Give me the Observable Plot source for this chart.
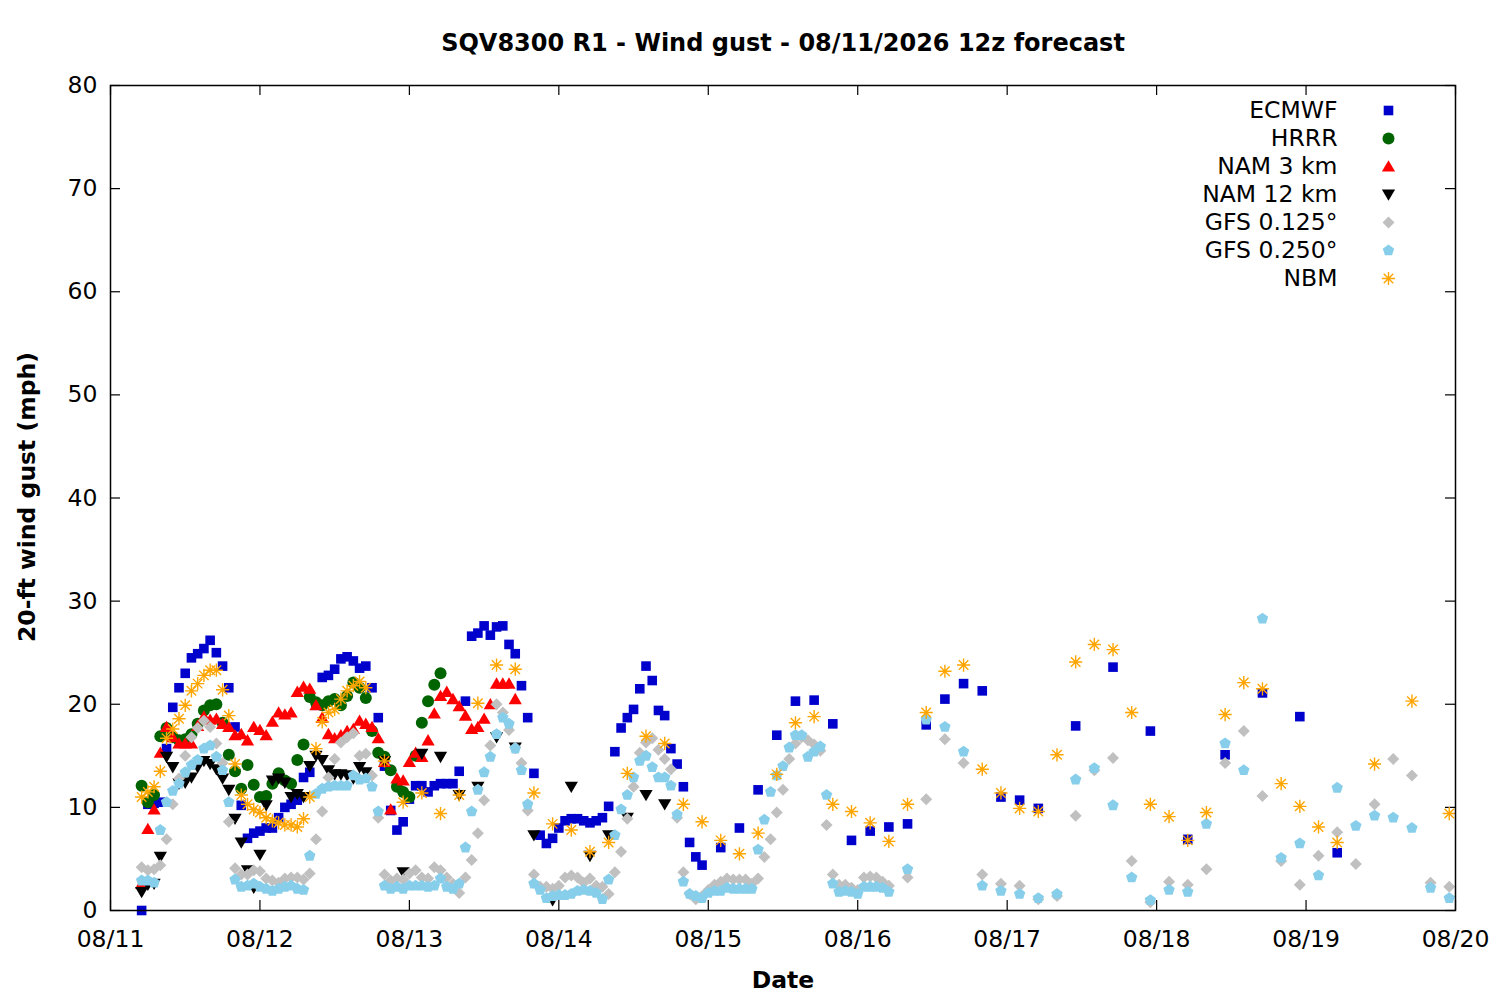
<!DOCTYPE html>
<html><head><meta charset="utf-8">
<script src="https://cdn.jsdelivr.net/npm/d3@7"></script>
<script src="https://cdn.jsdelivr.net/npm/@observablehq/plot@0.6"></script>
<style>
body{margin:0;background:#fff}
</style>
</head><body><div id="chart"></div>
<script>
// ---- Chart text ----
const chartTitle = "SQV8300 R1 - Wind gust - 08/11/2026 12z forecast";
const yLabel = "20-ft wind gust (mph)";
const xLabel = "Date";
const seriesNames = ["ECMWF","HRRR","NAM 3 km","NAM 12 km","GFS 0.125°","GFS 0.250°","NBM"];
const seriesColors = ["#0000cc","#006400","#ff0000","#000000","#c0c0c0","#87ceeb","#ffa500"];
const yTicks = [0,10,20,30,40,50,60,70,80];
const dayTicks = ["2026-08-11","2026-08-12","2026-08-13","2026-08-14","2026-08-15","2026-08-16","2026-08-17","2026-08-18","2026-08-19","2026-08-20"];
// axis origin (08/11 00 local); values below are listed by hour since origin
const axisStart = "2026-08-11T00:00Z";
const axisEnd = "2026-08-20T00:00Z";

// ---- ECMWF: hourly from h5, 3-hourly from h98, 6-hourly from h155 ----
const ecmwfHourly = [0.0,10.3,10.4,10.5,15.7,19.7,21.6,23.0,24.5,24.9,
 25.4,26.2,25.0,23.7,21.6,17.8,10.2,7.0,7.5,7.7,
 8.0,8.0,9.0,10.0,10.3,10.7,12.9,13.4,19.9,22.6,
 22.8,23.4,24.4,24.6,24.2,23.5,23.7,21.6,18.7,14.0,
 9.7,7.8,8.6,10.8,12.1,12.1,11.5,12.1,12.3,12.3,
 12.3,13.5,20.3,26.6,26.9,27.6,26.7,27.5,27.6,25.8,
 24.9,21.8,18.7,13.3,7.3,6.5,7.0,8.0,8.7,8.9,
 8.9,8.7,8.5,8.7,9.0,10.1,15.4,17.7,18.7,19.5,
 21.5,23.7,22.3,19.4,18.9,15.7,14.2,12.0,6.6,5.2,
 4.4];
const ecmwf3h = [6.1,8.0,11.7,17.0,20.3,20.4,18.1,6.8,7.7,8.1,8.4,18.0,20.5,22.0,21.3,11.0,10.7,9.9];
const ecmwf6h = [17.9,23.6,17.4,6.9,15.1,21.1,18.8,5.6];

// ---- HRRR: hourly from h5 ----
const hrrrHourly = [12.1,10.5,11.2,16.9,17.7,16.8,16.5,16.6,17.1,18.1,
 19.4,19.9,20.0,18.2,15.1,13.5,11.8,14.1,12.2,11.0,
 11.1,12.3,13.3,12.6,12.3,14.6,16.1,20.7,20.2,19.9,
 20.3,20.5,19.9,20.8,22.1,21.6,20.6,17.4,15.3,14.9,
 13.6,12.0,11.5,11.0,15.0,18.2,20.3,21.9,23.0];

// ---- NAM 3 km: hourly from h5 ----
const nam3Hourly = [2.6,7.9,9.8,15.3,17.8,16.8,16.2,16.2,16.2,17.9,
 18.8,18.5,18.6,18.1,17.8,17.0,17.1,16.5,17.8,17.5,
 17.0,18.3,19.2,19.0,19.2,21.2,21.7,21.5,19.9,18.7,
 17.1,16.7,17.0,17.4,17.6,18.4,18.1,17.8,16.7,14.4,
 9.8,12.8,12.6,14.4,15.3,14.9,16.5,19.1,20.8,21.2,
 20.5,19.8,18.9,17.6,17.8,18.6,20.0,22.0,22.0,22.0,20.5];

// ---- NAM 12 km: hourly from h5, 3-hourly from h44 ----
const nam12Hourly = [1.8,2.5,2.6,5.2,14.9,13.9,12.3,12.4,12.9,13.9,
 14.5,14.2,13.7,12.8,11.7,8.9,6.6,3.9,2.2,5.4,
 10.2,12.6,12.8,12.4,11.0,11.3,11.0,14.0,15.0,14.6,
 13.6,13.2,13.2,13.1,12.8,13.9,13.4];
const nam12_3h = [14.5,3.7,15.2,14.9,11.2,12.0,16.8,15.8,7.3,1.0,12.0,5.3,7.3,9.0,11.2,10.3];

// ---- GFS 0.125°: hourly from h5, 3-hourly from h128 ----
const gfs125Hourly = [4.2,3.9,4.0,4.4,6.9,10.3,12.8,15.0,16.8,17.7,
 18.4,17.8,16.2,14.3,8.6,4.1,3.5,3.5,3.9,3.8,
 3.1,2.9,2.7,3.1,3.2,3.2,3.0,3.6,6.9,9.6,
 12.9,14.7,16.3,16.8,17.2,15.0,15.2,13.1,9.0,3.5,
 2.9,3.1,3.0,3.6,3.9,3.2,3.1,4.2,3.9,3.2,
 2.6,1.7,3.2,4.9,7.5,10.7,16.0,20.0,19.2,17.5,
 15.8,14.3,9.7,3.5,2.3,2.3,2.1,2.4,3.2,3.4,
 3.2,2.7,3.1,2.4,2.3,1.6,3.7,5.7,8.9,12.0,
 15.3,16.3,16.7,15.6,14.7,13.7,9.0,3.7,1.6,1.1,
 1.4,2.0,2.5,2.8,3.1,3.0,3.0,3.0,2.6,3.1,
 5.2,6.9,9.5,11.7,14.7,16.2,16.8,16.5,16.1,15.5,
 8.3,3.5,2.5,2.5,2.2,2.0,3.2,3.3,3.2,2.8,2.4];
const gfs125_3h = [3.2,10.8,16.6,14.3,3.5,2.6,2.4,1.1,1.4,9.2,
 13.6,14.8,4.8,0.8,2.8,2.5,4.0,14.3,17.4,11.1,
 4.8,2.5,5.3,7.6,4.5,10.3,14.7,13.1,2.7,2.3];

// ---- GFS 0.250°: hourly from h5, 3-hourly from h128 ----
const gfs250Hourly = [2.9,2.9,2.7,7.8,10.5,11.6,12.3,13.4,14.1,14.6,
 15.7,16.0,14.9,13.6,10.5,3.0,2.3,2.4,2.6,2.3,
 2.1,1.9,2.1,2.3,2.4,2.1,2.0,5.3,11.3,11.8,
 12.0,12.1,12.1,12.1,13.1,12.7,12.8,12.0,9.6,2.4,
 2.1,2.3,2.1,2.4,2.4,2.4,2.3,2.4,3.1,2.3,
 2.1,2.6,6.1,9.6,11.7,13.4,14.9,17.1,18.7,18.1,
 15.7,13.6,10.3,2.6,2.0,1.2,1.4,1.5,1.5,1.6,
 1.9,2.0,1.9,1.7,1.1,3.0,7.3,9.8,11.2,12.9,
 14.5,15.0,13.9,12.9,12.9,12.1,9.3,2.8,1.6,1.4,
 1.2,1.7,1.9,1.9,2.2,2.1,2.1,2.1,2.1,5.9,
 8.8,11.5,13.1,14.0,15.8,17.0,17.0,14.9,15.4,15.9,
 11.2,2.6,1.8,1.9,1.8,1.6,2.3,2.3,2.3,2.2,1.8];
const gfs250_3h = [4.0,18.5,17.8,15.4,2.4,1.9,1.6,1.2,1.6,12.7,
 13.8,10.2,3.2,1.0,2.0,1.8,8.4,16.2,13.6,28.3,
 5.1,6.5,3.4,11.9,8.2,9.2,9.0,8.0,2.2,1.2];

// ---- NBM: hourly from h5, 3-hourly from h44, 6-hourly from h203 ----
const nbmHourly = [11.0,11.5,12.0,13.5,16.7,17.6,18.6,19.9,21.3,22.0,
 22.8,23.3,23.3,21.4,18.9,14.2,11.2,10.3,9.8,9.5,
 9.0,8.7,8.5,8.3,8.3,8.1,8.9,11.0,15.7,18.3,
 19.2,19.5,20.5,21.3,21.8,22.2,21.6];
const nbm3h = [14.5,10.5,11.4,9.4,11.2,20.1,23.8,23.4,11.4,8.4,
 7.8,5.7,6.6,13.3,16.9,16.2,10.3,8.6,6.8,5.5,
 7.5,13.2,18.2,18.8,10.3,9.6,8.5,6.7,10.3,19.2,
 23.2,23.8,13.7,11.4,9.9,9.6,15.1,24.1,25.8,25.3,
 19.2,10.3,9.1,6.8,9.5,19.0,22.1,21.5,12.3,10.1,
 8.1,6.6];
const nbm6h = [14.2,20.3,9.4];

// segments: [first hour, step in hours, values]
const seriesSegments = [
  [[5,1,ecmwfHourly],[98,3,ecmwf3h],[155,6,ecmwf6h]],
  [[5,1,hrrrHourly]],
  [[5,1,nam3Hourly]],
  [[5,1,nam12Hourly],[44,3,nam12_3h]],
  [[5,1,gfs125Hourly],[128,3,gfs125_3h]],
  [[5,1,gfs250Hourly],[128,3,gfs250_3h]],
  [[5,1,nbmHourly],[44,3,nbm3h],[203,6,nbm6h]]
];

// ---- symbols (gnuplot-like) ----
const symSquare = {draw(c,s){const r=Math.sqrt(s/Math.PI);c.moveTo(-r,-r);c.lineTo(r,-r);c.lineTo(r,r);c.lineTo(-r,r);c.closePath();}};
const symCircle = {draw(c,s){const r=Math.sqrt(s/Math.PI);c.moveTo(r,0);c.arc(0,0,r,0,2*Math.PI);c.closePath();}};
const symTriUp = {draw(c,s){const r=Math.sqrt(s/Math.PI);c.moveTo(0,-r);c.lineTo(r*1.05,r*0.8);c.lineTo(-r*1.05,r*0.8);c.closePath();}};
const symTriDown = {draw(c,s){const r=Math.sqrt(s/Math.PI);c.moveTo(0,r);c.lineTo(r*1.05,-r*0.8);c.lineTo(-r*1.05,-r*0.8);c.closePath();}};
const symDiamond = {draw(c,s){const r=Math.sqrt(s/Math.PI);c.moveTo(0,-r);c.lineTo(r,0);c.lineTo(0,r);c.lineTo(-r,0);c.closePath();}};
const symPentagon = {draw(c,s){const r=Math.sqrt(s/Math.PI);for(let k=0;k<5;k++){const a=-Math.PI/2+k*2*Math.PI/5;const px=r*Math.cos(a),py=r*Math.sin(a);k?c.lineTo(px,py):c.moveTo(px,py);}c.closePath();}};
const symAsterisk = {draw(c,s){const r=Math.sqrt(s/Math.PI);const q=r*0.72;c.moveTo(-r,0);c.lineTo(r,0);c.moveTo(0,-r);c.lineTo(0,r);c.moveTo(-q,-q);c.lineTo(q,q);c.moveTo(-q,q);c.lineTo(q,-q);}};
const seriesSymbols = [symSquare,symCircle,symTriUp,symTriDown,symDiamond,symPentagon,symAsterisk];
const seriesRadius = [4.8,6.0,6.3,6.3,6.0,6.0,6.6];

const t0 = new Date(axisStart).getTime();
const rows = seriesNames.map((name,i)=>{
  const out=[];
  for(const [start,step,vals] of seriesSegments[i]){
    vals.forEach((v,j)=>out.push({model:name,time:new Date(t0+(start+j*step)*3600e3),gust:v}));
  }
  return out;
});

const W=1500,H=1000,ML=110,MR=45,MT=85,MB=90;
const plotW=W-ML-MR, plotH=H-MT-MB;
const days = dayTicks.map(d=>new Date(d+"T00:00Z"));
const FS=23.5;

const marks = [
  // inward ticks (gnuplot style, mirrored)
  Plot.tickY(yTicks,{y:d=>d,insetRight:plotW-10,stroke:"black",strokeWidth:1.2}),
  Plot.tickY(yTicks,{y:d=>d,insetLeft:plotW-10,stroke:"black",strokeWidth:1.2}),
  Plot.tickX(days,{x:d=>d,insetTop:plotH-10,stroke:"black",strokeWidth:1.2}),
  Plot.tickX(days,{x:d=>d,insetBottom:plotH-10,stroke:"black",strokeWidth:1.2}),
  Plot.axisY({ticks:yTicks,tickSize:0,tickPadding:13,fontSize:FS,label:null}),
  Plot.axisX({ticks:days,tickSize:0,tickPadding:20,fontSize:FS,label:null,tickFormat:d3.utcFormat("%m/%d")}),
];
seriesNames.forEach((name,i)=>{
  const isAst = i===6;
  marks.push(Plot.dot(rows[i],{x:"time",y:"gust",symbol:seriesSymbols[i],r:seriesRadius[i],
    fill:isAst?"none":seriesColors[i],stroke:isAst?seriesColors[i]:"none",strokeWidth:isAst?1.4:0}));
});
marks.push(Plot.frame({stroke:"black",strokeWidth:1.5}));
// legend
seriesNames.forEach((name,i)=>{
  const isAst = i===6;
  marks.push(Plot.text([name],{text:d=>d,frameAnchor:"top-right",dx:-118,dy:25+28*i,textAnchor:"end",lineAnchor:"middle",fontSize:FS,fill:"black"}));
  marks.push(Plot.dot([name],{frameAnchor:"top-right",dx:-67,dy:25+28*i,symbol:seriesSymbols[i],r:seriesRadius[i],
    fill:isAst?"none":seriesColors[i],stroke:isAst?seriesColors[i]:"none",strokeWidth:isAst?1.4:0}));
});
// title and axis labels
marks.push(Plot.text([chartTitle],{text:d=>d,frameAnchor:"top",dy:-42,lineAnchor:"middle",textAnchor:"middle",fontWeight:"bold",fontSize:24,fill:"black"}));
marks.push(Plot.text([xLabel],{text:d=>d,frameAnchor:"bottom",dy:70,lineAnchor:"middle",textAnchor:"middle",fontWeight:"bold",fontSize:FS,fill:"black"}));
marks.push(Plot.text([yLabel],{text:d=>d,frameAnchor:"left",dx:-83,dy:-1,rotate:-90,lineAnchor:"middle",textAnchor:"middle",fontWeight:"bold",fontSize:FS,fill:"black"}));

const chart = Plot.plot({
  width:W,height:H,marginLeft:ML,marginRight:MR,marginTop:MT,marginBottom:MB,
  style:{fontFamily:"DejaVu Sans",fontSize:FS+"px",background:"#fff",color:"black",overflow:"visible"},
  x:{type:"utc",domain:[new Date(axisStart),new Date(axisEnd)]},
  y:{domain:[0,80]},
  marks
});
document.getElementById("chart").appendChild(chart);
</script>
</body></html>
